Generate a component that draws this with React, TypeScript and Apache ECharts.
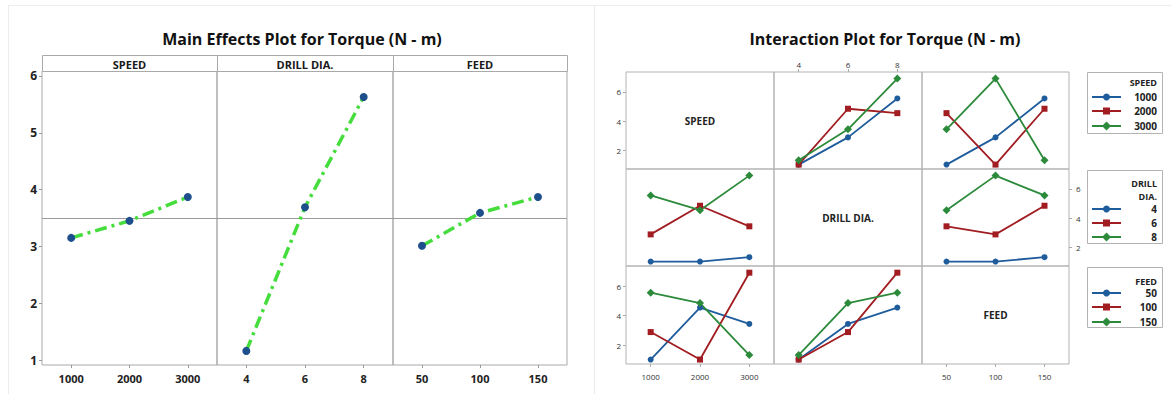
import React, { useEffect, useRef } from "react";
import * as echarts from "echarts";

// ---------- data ----------
const factorNames = ["SPEED", "DRILL DIA.", "FEED"];
const speedLevels = [1000, 2000, 3000];
const drillLevels = [4, 6, 8];
const feedLevels = [50, 100, 150];

// main effects (means of torque)
const speedMeans = [3.15, 3.45, 3.87];
const drillMeans = [1.16, 3.69, 5.63];
const feedMeans = [3.01, 3.59, 3.87];
const grandMean = 3.49;

// L9 runs (interaction plot points)
const runSpeed = [1000, 1000, 1000, 2000, 2000, 2000, 3000, 3000, 3000];
const runDrill = [4, 6, 8, 4, 6, 8, 4, 6, 8];
const runFeed = [50, 100, 150, 100, 150, 50, 150, 50, 100];
const runTorque = [1.05, 2.9, 5.55, 1.05, 4.85, 4.55, 1.35, 3.45, 6.9];

// tick labels
const mainYTicks = [1, 2, 3, 4, 5, 6];
const interYTicks = [2, 4, 6];

// ---------- styling / layout ----------
const FONT = "'Open Sans', sans-serif";
const levels = [speedLevels, drillLevels, feedLevels];
const means = [speedMeans, drillMeans, feedMeans];
const runs = [runSpeed, runDrill, runFeed];
const xRanges = [
  [500, 3500],
  [3, 9],
  [25, 175],
];
const mainY = [0.912, 6.088];
const interY = [0.75, 7.35];
const levelColors = ["#1f5c9c", "#a11d22", "#2c8a3b"];
const levelSymbols = ["circle", "rect", "diamond"];
const levelSymbolSizes = [6, 6, 8];

const ME_X = [42, 217, 393, 567];
const ME_STRIP_TOP = 55;
const ME_TOP = 71;
const ME_BOTTOM = 365;

const IP_X = [626, 774, 922, 1069];
const IP_Y = [72, 169, 266, 364];

const plain = (v: number) => String(v);

function lookup(rf: number, rv: number, cf: number, cv: number) {
  for (let i = 0; i < runTorque.length; i++) {
    if (runs[rf][i] === rv && runs[cf][i] === cv) return runTorque[i];
  }
  return null;
}

export default function App() {
  const ref = useRef<HTMLDivElement>(null);
  useEffect(() => {
    const chart = echarts.init(ref.current!, null, { renderer: "svg" });
    const grid: any[] = [];
    const xAxis: any[] = [];
    const yAxis: any[] = [];
    const series: any[] = [];
    const graphic: any[] = [];

    // ----- main effects -----
    for (let f = 0; f < 3; f++) {
      grid.push({
        left: ME_X[f],
        top: ME_TOP,
        width: ME_X[f + 1] - ME_X[f],
        height: ME_BOTTOM - ME_TOP,
        show: true,
        borderColor: "#a9a9a9",
        borderWidth: 1,
      });
      xAxis.push({
        type: "value",
        gridIndex: f,
        min: xRanges[f][0],
        max: xRanges[f][1],
        axisLine: { show: false },
        splitLine: { show: false },
        axisTick: { show: true, length: 3, lineStyle: { color: "#999" }, customValues: levels[f] },
        axisLabel: {
          customValues: levels[f],
          formatter: plain,
          margin: 8,
          fontFamily: FONT,
          fontWeight: "bold",
          fontSize: 11,
          color: "#222",
        },
      });
      yAxis.push({
        type: "value",
        gridIndex: f,
        min: mainY[0],
        max: mainY[1],
        axisLine: { show: false },
        splitLine: { show: false },
        axisTick: { show: f === 0, length: 3, lineStyle: { color: "#999" }, customValues: mainYTicks },
        axisLabel: {
          show: f === 0,
          customValues: mainYTicks,
          formatter: plain,
          margin: 5,
          fontFamily: FONT,
          fontWeight: "bold",
          fontSize: 12,
          color: "#222",
        },
      });
      series.push({
        type: "line",
        xAxisIndex: f,
        yAxisIndex: f,
        data: levels[f].map((v, i) => [v, means[f][i]]),
        symbol: "circle",
        symbolSize: 8,
        itemStyle: { color: "#1d4f8c" },
        lineStyle: { color: "#44dd3c", width: 3.5, type: [12, 5, 3, 5] },
        z: 3,
        markLine: {
          silent: true,
          symbol: "none",
          label: { show: false },
          lineStyle: { color: "#9a9a9a", width: 1, type: "solid" },
          data: [{ yAxis: grandMean }],
          z: 1,
        },
      });
      // strip header
      graphic.push({
        type: "rect",
        shape: { x: ME_X[f] + 0.5, y: ME_STRIP_TOP + 0.5, width: ME_X[f + 1] - ME_X[f], height: ME_TOP - ME_STRIP_TOP },
        style: { fill: "#fff", stroke: "#a9a9a9", lineWidth: 1 },
      });
      graphic.push({
        type: "text",
        x: (ME_X[f] + ME_X[f + 1]) / 2,
        y: (ME_STRIP_TOP + ME_TOP) / 2 + 1,
        style: {
          text: factorNames[f],
          fontFamily: FONT,
          fontWeight: "bold",
          fontSize: 11,
          fill: "#1a1a1a",
          align: "center",
          verticalAlign: "middle",
        },
      });
    }

    // ----- interaction plot -----
    for (let r = 0; r < 3; r++) {
      for (let c = 0; c < 3; c++) {
        const gi = grid.length;
        grid.push({
          left: IP_X[c],
          top: IP_Y[r],
          width: IP_X[c + 1] - IP_X[c],
          height: IP_Y[r + 1] - IP_Y[r],
          show: true,
          borderColor: "#b3b3b3",
          borderWidth: 1,
        });
        const xTop = r === 0 && c === 1;
        const xBottom = r === 2 && (c === 0 || c === 2);
        const yLeft = c === 0 && (r === 0 || r === 2);
        const yRight = r === 1 && c === 2;
        const smallLabel = {
          fontFamily: FONT,
          fontSize: 8,
          color: "#333",
          formatter: plain,
        };
        xAxis.push({
          type: "value",
          gridIndex: gi,
          position: xTop ? "top" : "bottom",
          min: xRanges[c][0],
          max: xRanges[c][1],
          axisLine: { show: false },
          splitLine: { show: false },
          axisTick: { show: xTop || xBottom, length: 3, lineStyle: { color: "#aaa" }, customValues: levels[c] },
          axisLabel: { show: xTop || xBottom, customValues: levels[c], margin: xTop ? 4 : 8, ...smallLabel },
        });
        yAxis.push({
          type: "value",
          gridIndex: gi,
          position: yRight ? "right" : "left",
          min: interY[0],
          max: interY[1],
          axisLine: { show: false },
          splitLine: { show: false },
          axisTick: { show: yLeft || yRight, length: 3, lineStyle: { color: "#aaa" }, customValues: interYTicks },
          axisLabel: { show: yLeft || yRight, customValues: interYTicks, margin: yRight ? 7 : 5, ...smallLabel },
        });
        if (r === c) {
          graphic.push({
            type: "text",
            x: (IP_X[c] + IP_X[c + 1]) / 2,
            y: (IP_Y[r] + IP_Y[r + 1]) / 2,
            style: {
              text: factorNames[r],
              fontFamily: FONT,
              fontWeight: "bold",
              fontSize: 10,
              fill: "#222",
              align: "center",
              verticalAlign: "middle",
            },
          });
          continue;
        }
        for (let li = 0; li < 3; li++) {
          const rv = levels[r][li];
          series.push({
            type: "line",
            name: `${factorNames[r]} ${rv}`,
            xAxisIndex: gi,
            yAxisIndex: gi,
            data: levels[c].map((cv) => [cv, lookup(r, rv, c, cv)]),
            symbol: levelSymbols[li],
            symbolSize: levelSymbolSizes[li],
            itemStyle: { color: levelColors[li] },
            lineStyle: { color: levelColors[li], width: 1.8 },
            z: 3,
          });
        }
      }
    }

    // ----- legends -----
    const legendBoxes = [
      { y: 72, h: 61, title: ["SPEED"], titleY: [82], itemY: [97, 111, 126] },
      { y: 170, h: 73, title: ["DRILL", "DIA."], titleY: [183, 196], itemY: [209, 223, 237] },
      { y: 267, h: 60, title: ["FEED"], titleY: [281], itemY: [293, 307, 322] },
    ];
    const LX = 1087;
    const LW = 75;
    legendBoxes.forEach((b, f) => {
      graphic.push({
        type: "rect",
        shape: { x: LX + 0.5, y: b.y + 0.5, width: LW, height: b.h },
        style: { fill: "#fff", stroke: "#b3b3b3", lineWidth: 1 },
      });
      b.title.forEach((t, k) => {
        graphic.push({
          type: "text",
          x: LX + LW - 5,
          y: b.titleY[k],
          style: {
            text: t,
            fontFamily: FONT,
            fontWeight: "bold",
            fontSize: 9,
            fill: "#222",
            align: "right",
            verticalAlign: "middle",
          },
        });
      });
      levels[f].forEach((lv, li) => {
        const y = b.itemY[li];
        const col = levelColors[li];
        graphic.push({
          type: "line",
          shape: { x1: LX + 5, y1: y, x2: LX + 34, y2: y },
          style: { stroke: col, lineWidth: 2 },
        });
        if (li === 0) {
          graphic.push({ type: "circle", shape: { cx: LX + 19.5, cy: y, r: 3.5 }, style: { fill: col } });
        } else if (li === 1) {
          graphic.push({ type: "rect", shape: { x: LX + 16, y: y - 3.5, width: 7, height: 7 }, style: { fill: col } });
        } else {
          graphic.push({
            type: "polygon",
            shape: { points: [[LX + 19.5, y - 4.5], [LX + 24, y], [LX + 19.5, y + 4.5], [LX + 15, y]] },
            style: { fill: col },
          });
        }
        graphic.push({
          type: "text",
          x: LX + LW - 5,
          y,
          style: {
            text: String(lv),
            fontFamily: FONT,
            fontWeight: "bold",
            fontSize: 10,
            fill: "#222",
            align: "right",
            verticalAlign: "middle",
          },
        });
      });
    });

    // ----- titles & faint frames -----
    graphic.push({
      type: "line",
      shape: { x1: 8, y1: 5.5, x2: 1171, y2: 5.5 },
      style: { stroke: "#ececec", lineWidth: 1 },
    });
    graphic.push({
      type: "line",
      shape: { x1: 8.5, y1: 5, x2: 8.5, y2: 394 },
      style: { stroke: "#ececec", lineWidth: 1 },
    });
    graphic.push({
      type: "line",
      shape: { x1: 594.5, y1: 5, x2: 594.5, y2: 394 },
      style: { stroke: "#ececec", lineWidth: 1 },
    });
    graphic.push({
      type: "text",
      x: 302,
      y: 39,
      style: {
        text: "Main Effects Plot for Torque (N - m)",
        fontFamily: FONT,
        fontWeight: "bold",
        fontSize: 16,
        fill: "#111",
        align: "center",
        verticalAlign: "middle",
      },
    });
    graphic.push({
      type: "text",
      x: 885,
      y: 39,
      style: {
        text: "Interaction Plot for Torque (N - m)",
        fontFamily: FONT,
        fontWeight: "bold",
        fontSize: 16,
        fill: "#111",
        align: "center",
        verticalAlign: "middle",
      },
    });

    chart.setOption({
      animation: false,
      backgroundColor: "#fff",
      grid,
      xAxis,
      yAxis,
      series,
      graphic,
    });
    return () => chart.dispose();
  }, []);
  return (
    <div
      ref={ref}
      style={{ position: "absolute", left: 0, top: 0, width: 1171, height: 394, background: "#fff" }}
    />
  );
}
